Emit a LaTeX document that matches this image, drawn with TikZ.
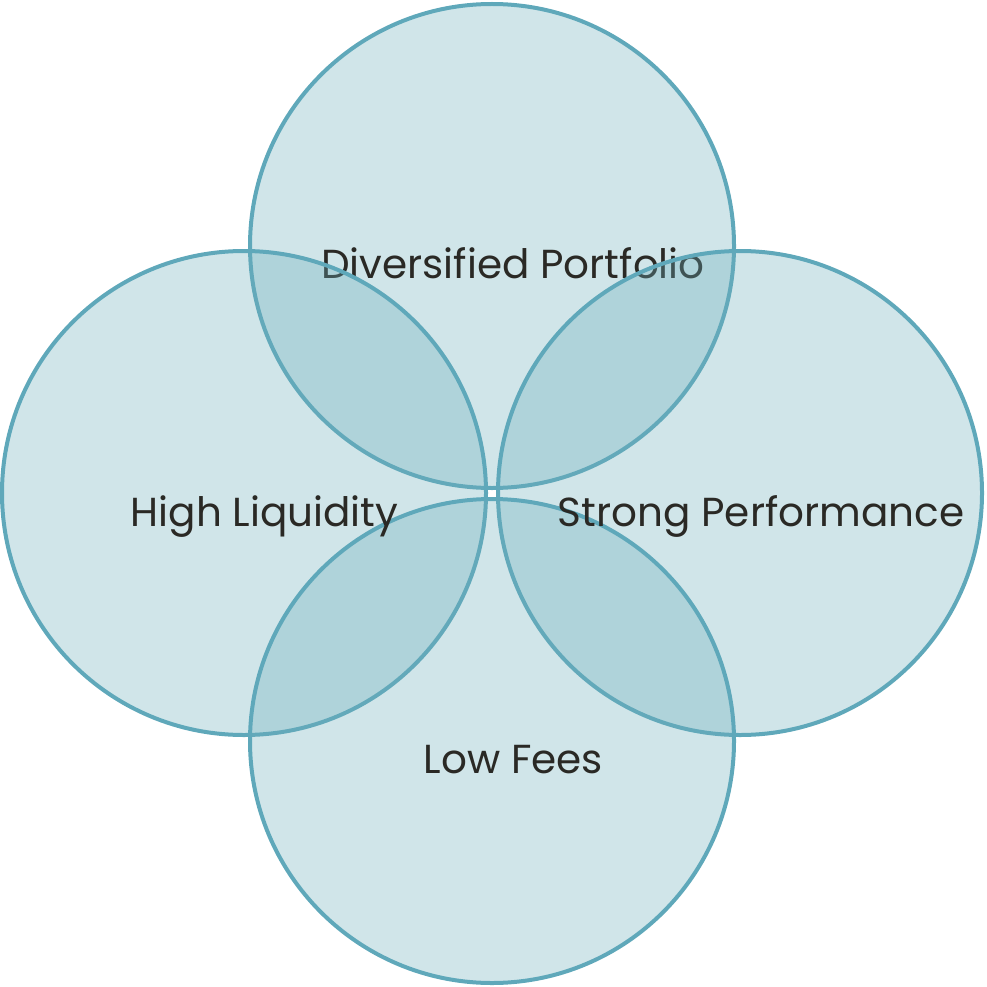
\documentclass[tikz,border=0pt]{standalone}
\usepackage{fontspec}
\setmainfont{Poppins}
\definecolor{ringfill}{RGB}{108,174,186}
\definecolor{ringline}{RGB}{95,168,186}
\definecolor{labeltext}{RGB}{42,41,37}
\tikzset{
  ring/.style={circle, minimum size=484pt, inner sep=0pt, fill=ringfill, fill opacity=0.32, draw=ringline, draw opacity=1, line width=4pt},
  lbl/.style={anchor=base, text=labeltext, font=\fontsize{40.5}{44}\selectfont, inner sep=0pt}
}
\begin{document}
\begin{tikzpicture}[x=1pt,y=-1pt]
\useasboundingbox (0,0) rectangle (987,987);
\node[ring] (top) at (492,246) {};
\node[lbl] (ltop) at (513,278) {Diversified Portfolio};
\node[ring] (left) at (244,493) {};
\node[ring] (right) at (740,493) {};
\node[ring] (bottom) at (492,741) {};
\node[lbl] (lleft) at (264.5,526) {High Liquidity};
\node[lbl] (lright) at (761,526) {Strong Performance};
\node[lbl] (lbottom) at (513.5,773) {Low Fees};
\end{tikzpicture}
\end{document}
